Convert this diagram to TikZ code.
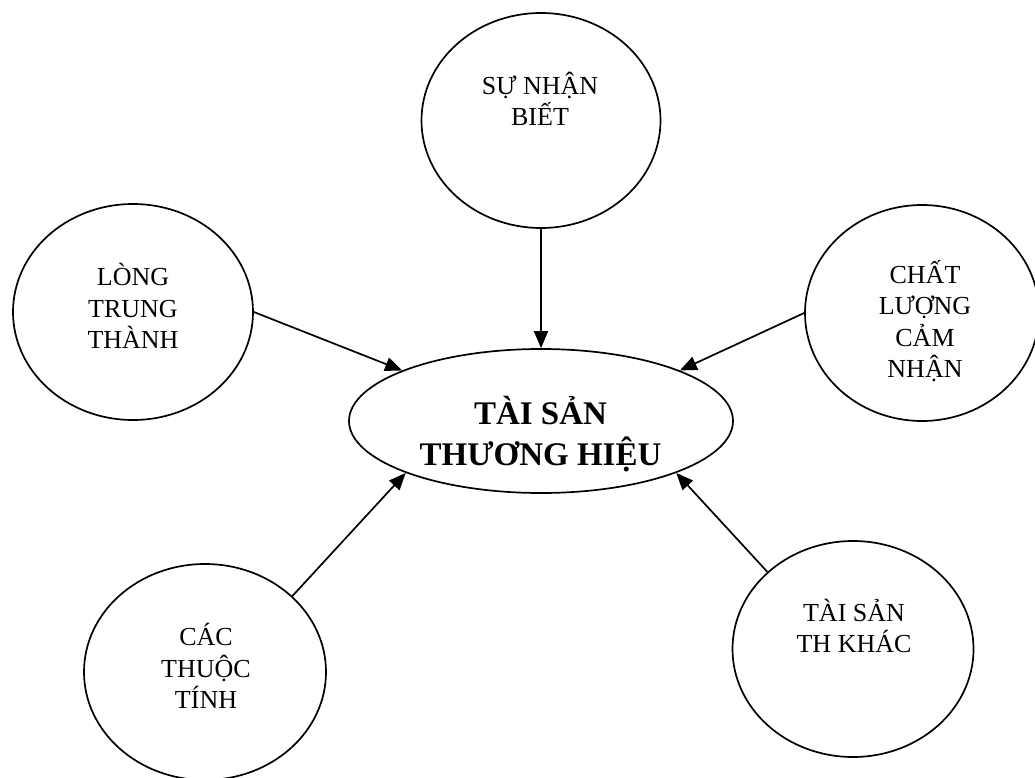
\documentclass[tikz,border=0pt]{standalone}
\usepackage{fontspec}
\setmainfont{Liberation Serif}
\usetikzlibrary{shapes.geometric,arrows.meta}
\tikzset{
  bubble/.style={draw, ellipse, line width=1.7pt, inner sep=0pt},
  lbl/.style={align=center, font=\fontsize{26pt}{31.5pt}\selectfont, inner sep=0pt},
  mainlbl/.style={align=center, font=\fontsize{33pt}{41pt}\selectfont\bfseries, inner sep=0pt},
  arr/.style={line width=1.7pt, -{Triangle[length=17pt,width=14pt]}}
}
\begin{document}
\begin{tikzpicture}[x=1pt,y=-1pt]
\useasboundingbox (0,0) rectangle (1035,778);
% shapes
\node[bubble, minimum width=384pt, minimum height=144pt] (c) at (541,421) {};
\node[bubble, minimum width=239pt, minimum height=215pt] (top) at (541,120.5) {};
\node[bubble, minimum width=240pt, minimum height=216pt] (lt) at (133,312) {};
\node[bubble, minimum width=234pt, minimum height=216pt] (rt) at (922,313) {};
\node[bubble, minimum width=242pt, minimum height=216pt] (lb) at (205,672) {};
\node[bubble, minimum width=241pt, minimum height=216pt] (rb) at (853,649) {};
% texts
\node[mainlbl] (cT) at (540.5,434) {TÀI SẢN\\THƯƠNG HIỆU};
\node[lbl] (topT) at (540,99) {SỰ NHẬN\\BIẾT};
\node[lbl] (ltT) at (133,306) {LÒNG\\TRUNG\\THÀNH};
\node[lbl] (rtT) at (925,321) {CHẤT\\LƯỢNG\\CẢM\\NHẬN};
\node[lbl] (lbT) at (206,666) {CÁC\\THUỘC\\TÍNH};
\node[lbl] (rbT) at (854,626) {TÀI SẢN\\TH KHÁC};
% connectors
\draw[arr] (top.south) -- (c.north);
\draw[arr] (lt.east) -- (c.160);
\draw[arr] (rt.west) -- (c.20);
\draw[arr] (lb.41) -- (c.201);
\draw[arr] (rb.138) -- (c.339);
\end{tikzpicture}
\end{document}
